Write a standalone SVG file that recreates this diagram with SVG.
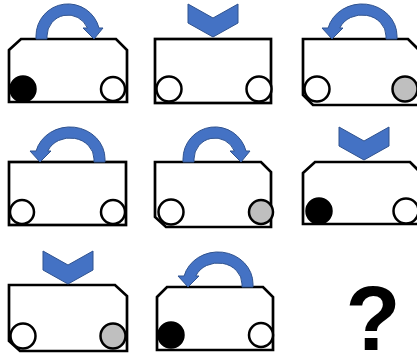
<svg xmlns="http://www.w3.org/2000/svg" width="417" height="358" viewBox="0 0 417 358">
<style>
.box{fill:#fff;stroke:#000;stroke-width:2.7;stroke-linejoin:miter}
.w{stroke:#000;stroke-width:2.5}
.wh{fill:#fff}.bk{fill:#000}.gr{fill:#bfbfbf}
.ar{fill:#4472C4;stroke:#2F528F;stroke-width:1}
.q{font-family:"Liberation Sans",Arial,sans-serif;font-weight:bold;font-size:90px;fill:#000}
</style>
<defs>
<path id="cw" d="M -32,3 L -32,0 A 32 32 0 0 1 31,-8 L 35,-8 L 26,3 L 15,-8 L 19.4,-8 A 21 21 0 0 0 -21,0 L -21,3 Z"/>
<path id="ccw" d="M 35,3 L 35,0 A 35 32 0 0 0 -33.9,-8 L -40,-8 L -30,3 L -19,-8 L -22.2,-8 A 24 21 0 0 1 24,0 L 24,3 Z"/>
<path id="chev" d="M -25,0 L 0,14 L 25,0 L 25,19 L 0,33 L -25,19 Z"/>
</defs>
<g id="panel1">
<path class="box" d="M9,50 L21,39 L116,39 L127,50 L127,102 L9,102 Z"/>
<circle class="w bk" cx="23" cy="89" r="12.5"/>
<circle class="w wh" cx="113" cy="89" r="12"/>
<use href="#cw" class="ar" x="68" y="36"/>
</g>
<g id="panel2">
<rect class="box" x="155" y="39" width="116" height="64"/>
<circle class="w wh" cx="169" cy="89" r="12.5"/>
<circle class="w wh" cx="259" cy="89" r="12.5"/>
<use href="#chev" class="ar" x="213" y="4"/>
</g>
<g id="panel3">
<path class="box" d="M303,39 L408,39 L419,50 L419,105 L313,105 L303,95 Z"/>
<circle class="w wh" cx="317" cy="89" r="12.5"/>
<circle class="w gr" cx="405" cy="89" r="12.5"/>
<use href="#ccw" class="ar" x="362" y="36"/>
</g>
<g id="panel4">
<rect class="box" x="9" y="162" width="117" height="63"/>
<circle class="w wh" cx="22" cy="212" r="12"/>
<circle class="w wh" cx="113" cy="212" r="12"/>
<use href="#ccw" class="ar" x="70" y="159"/>
</g>
<g id="panel5">
<path class="box" d="M155,162 L261,162 L271,172 L271,227 L166,227 L155,217 Z"/>
<circle class="w wh" cx="171" cy="212" r="12.5"/>
<circle class="w gr" cx="261" cy="212" r="12"/>
<use href="#cw" class="ar" x="215" y="159"/>
</g>
<g id="panel6">
<path class="box" d="M303,173 L315,162 L410,162 L421,173 L421,224 L303,224 Z"/>
<circle class="w bk" cx="319" cy="211" r="12.5"/>
<circle class="w wh" cx="406" cy="211" r="12.5"/>
<use href="#chev" class="ar" x="364" y="127"/>
</g>
<g id="panel7">
<path class="box" d="M9,285 L115,285 L127,296 L127,351 L20,351 L9,341 Z"/>
<circle class="w wh" cx="23" cy="336" r="12.5"/>
<circle class="w gr" cx="113" cy="336" r="12.5"/>
<use href="#chev" class="ar" x="68" y="251"/>
</g>
<g id="panel8">
<path class="box" d="M157,297 L167,287 L263,287 L273,297 L273,350 L157,350 Z"/>
<circle class="w bk" cx="171" cy="335" r="12.5"/>
<circle class="w wh" cx="261" cy="335" r="12"/>
<use href="#ccw" class="ar" x="218" y="284"/>
</g>
<g id="panel9">
<text class="q" x="373" y="350" text-anchor="middle">?</text>
</g>
</svg>
